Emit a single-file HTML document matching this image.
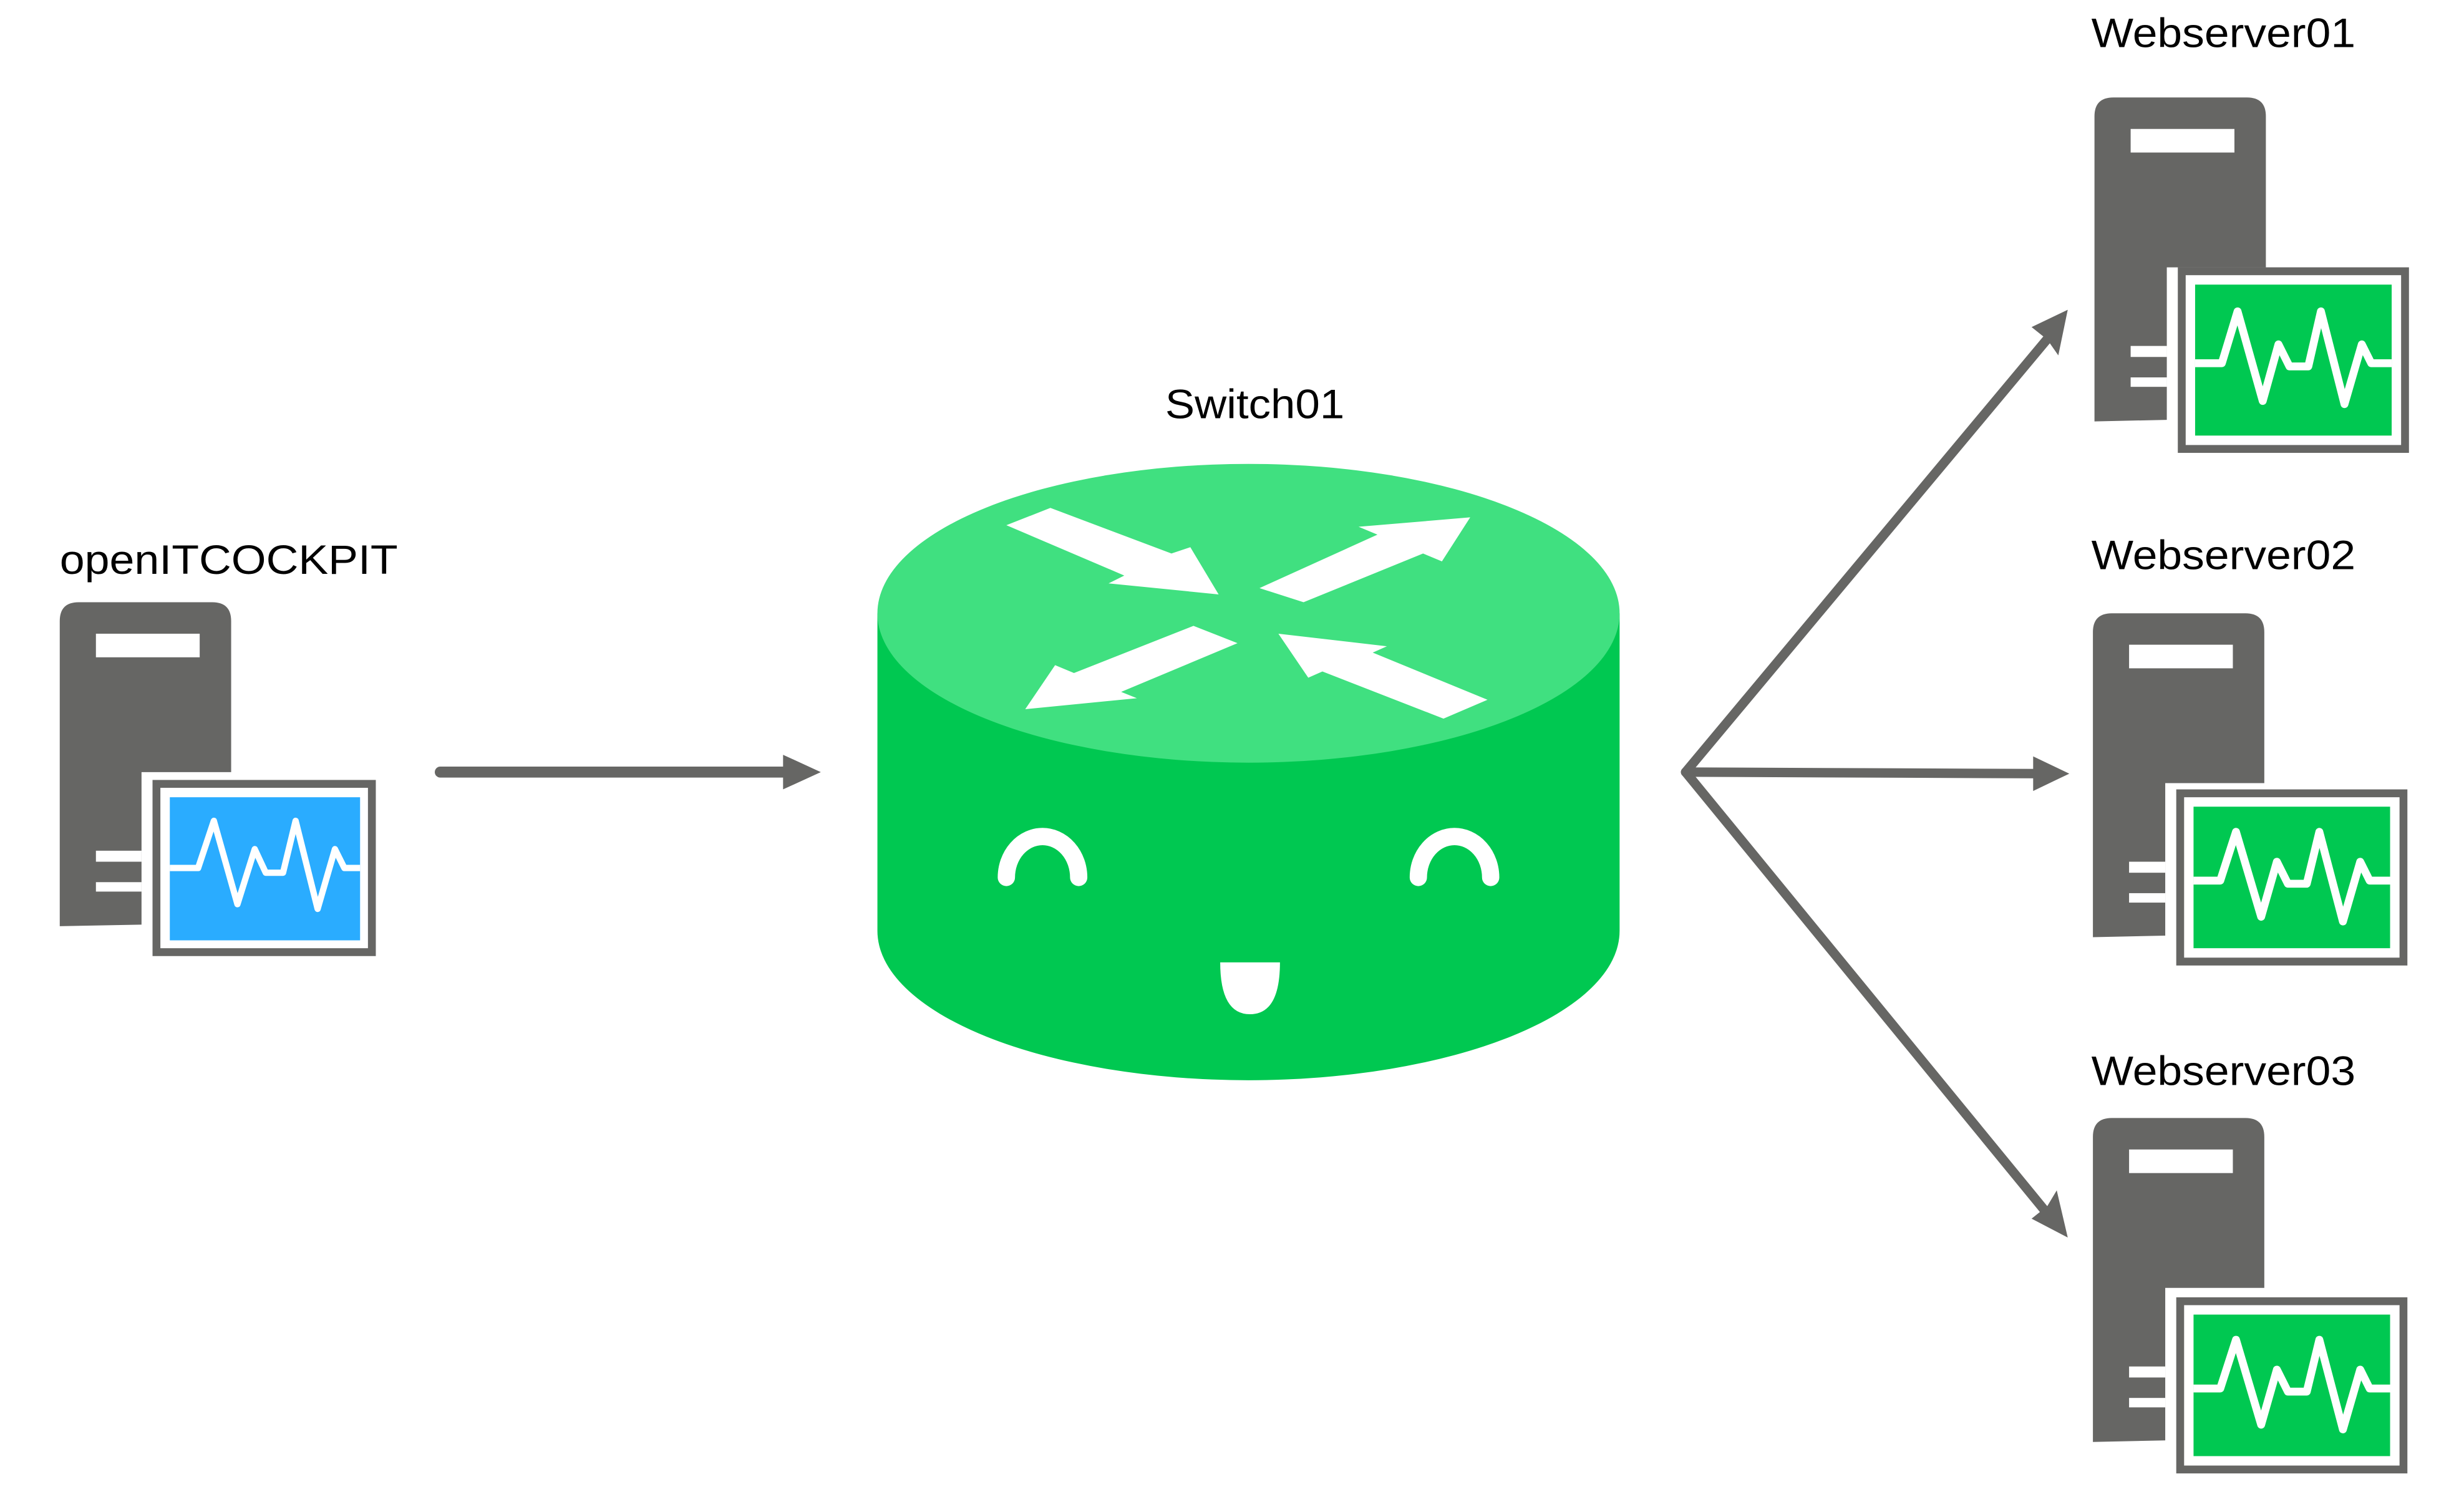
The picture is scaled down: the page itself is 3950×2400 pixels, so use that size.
<!DOCTYPE html>
<html><head><meta charset="utf-8"><style>
html,body{margin:0;padding:0;background:#fff;}
svg{display:block;}
text{font-family:"Liberation Sans",sans-serif;fill:#000;}
</style></head><body>
<svg width="3950" height="2400" viewBox="0 0 1567 952" preserveAspectRatio="none" xmlns="http://www.w3.org/2000/svg">
<defs>
  <g id="srvA">
    <path d="M0,12 Q0,0 12,0 H97 Q109,0 109,12 V108 H52 V205 L0,206 Z" fill="#666664"/>
    <rect x="23" y="20" width="66" height="15" fill="#fff"/>
    <rect x="23" y="158" width="29" height="7" fill="#fff"/>
    <rect x="23" y="178" width="29" height="6" fill="#fff"/>
  </g>
  <g id="srvB">
    <path d="M0,12 Q0,0 12,0 H97 Q109,0 109,12 V108 H46 V205 L0,206 Z" fill="#666664"/>
    <rect x="23" y="20" width="66" height="15" fill="#fff"/>
    <rect x="23" y="158" width="23" height="7" fill="#fff"/>
    <rect x="23" y="178" width="23" height="6" fill="#fff"/>
  </g>
</defs>

<text x="38" y="365" font-size="26" textLength="215" lengthAdjust="spacingAndGlyphs">openITCOCKPIT</text>
<g transform="translate(38,383)">
  <use href="#srvA"/>
  <rect x="59" y="113" width="142" height="112" fill="#666664"/>
  <rect x="64" y="118" width="132" height="102" fill="#fff"/>
  <rect x="70" y="124" width="121" height="91" fill="#2AACFF"/>
  <polyline points="70,169 88,169 98,139 113,192 124,157 131,172 142,172 150,139 164,195 175,157 181,169 191,169" fill="none" stroke="#fff" stroke-width="4" stroke-linejoin="round"/>
</g>

<line x1="280" y1="491" x2="500" y2="491" stroke="#666664" stroke-width="7" stroke-linecap="round"/>
<polygon points="498,480 522,491 498,502" fill="#666664"/>

<text x="798" y="266" font-size="26" text-anchor="middle" textLength="114" lengthAdjust="spacingAndGlyphs">Switch01</text>
<path d="M558,390 V592 A236,95 0 0 0 1030,592 V390 Z" fill="#00C851"/>
<ellipse cx="794" cy="390" rx="236" ry="95" fill="#40E080"/>
<g fill="#fff">
  <polygon points="640,334 668,323 745,352 757,348 775,378 705,371 715,366"/>
  <polygon points="801,374 829,383 905,352 917,357 935,329 864,335 876,340"/>
  <polygon points="787,409 759,398 683,428 671,423 652,451 723,444 713,440"/>
  <polygon points="946,445 918,457 841,427 832,431 813,403 882,411 873,415"/>
</g>
<path d="M640,558 A23,26 0 0 1 686,558" fill="none" stroke="#fff" stroke-width="11" stroke-linecap="round"/>
<path d="M902,558 A23,26 0 0 1 948,558" fill="none" stroke="#fff" stroke-width="11" stroke-linecap="round"/>
<path d="M776,612 H814 Q814,645 795,645 Q776,645 776,612 Z" fill="#fff"/>

<g stroke="#666664" stroke-width="6" stroke-linecap="round" fill="none">
  <line x1="1072" y1="491" x2="1305" y2="212"/>
  <line x1="1072" y1="491" x2="1300" y2="492"/>
  <line x1="1072" y1="491" x2="1303" y2="773"/>
</g>
<g fill="#666664">
  <polygon points="1315,197 1309,226 1302,216 1292,208"/>
  <polygon points="1316,492 1293,481 1293,503"/>
  <polygon points="1315,787 1292,775 1302,767 1308,757"/>
</g>

<text x="1330" y="30" font-size="26" textLength="168" lengthAdjust="spacingAndGlyphs">Webserver01</text>
<text x="1330" y="362" font-size="26" textLength="168" lengthAdjust="spacingAndGlyphs">Webserver02</text>
<text x="1330" y="690" font-size="26" textLength="168" lengthAdjust="spacingAndGlyphs">Webserver03</text>

<g transform="translate(1332,62)">
  <use href="#srvB"/>
  <rect x="53" y="108" width="147" height="118" fill="#666664"/>
  <rect x="58" y="113" width="137" height="108" fill="#fff"/>
  <rect x="64" y="119" width="125" height="96" fill="#00C851"/>
  <polyline points="64,169 81,169 91,136 107,193 117,157 124,171 136,171 144,136 159,195 170,157 176,169 189,169" fill="none" stroke="#fff" stroke-width="5" stroke-linejoin="round"/>
</g>

<g transform="translate(1331,390)">
  <use href="#srvB"/>
  <rect x="53" y="112" width="147" height="112" fill="#666664"/>
  <rect x="58" y="117" width="137" height="102" fill="#fff"/>
  <rect x="64" y="123" width="125" height="90" fill="#00C851"/>
  <polyline points="64,170 81,170 91,139 107,193 117,158 124,172 136,172 144,139 159,196 170,158 176,170 189,170" fill="none" stroke="#fff" stroke-width="5" stroke-linejoin="round"/>
</g>

<g transform="translate(1331,711)">
  <use href="#srvB"/>
  <rect x="53" y="114" width="147" height="112" fill="#666664"/>
  <rect x="58" y="119" width="137" height="102" fill="#fff"/>
  <rect x="64" y="125" width="125" height="90" fill="#00C851"/>
  <polyline points="64,172 81,172 91,141 107,195 117,160 124,174 136,174 144,141 159,198 170,160 176,172 189,172" fill="none" stroke="#fff" stroke-width="5" stroke-linejoin="round"/>
</g>
</svg>
</body></html>
